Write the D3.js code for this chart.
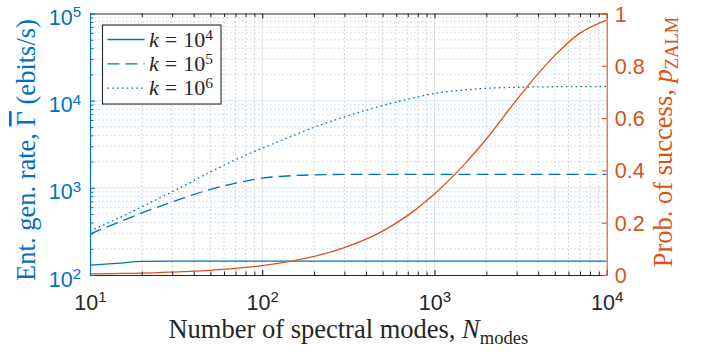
<!DOCTYPE html>
<html>
<head>
<meta charset="utf-8">
<script src="https://cdn.jsdelivr.net/npm/d3@7"></script>
<style>
  body { margin: 0; background: #fff; }
  svg { display: block; }
</style>
</head>
<body>
<svg id="chart" width="711" height="354"></svg>
<script>
// Number of spectral modes (x values)
const modes = [10, 15, 20, 30, 50, 70, 100, 150, 200, 300, 500, 700, 1000, 1500, 2000, 3000, 4000, 5000, 7000, 10000];
// Entanglement generation rate (ebits/s) for each k
const rateK4 = [130, 137, 143, 144, 144, 144, 144, 144, 144, 144, 144, 144, 144, 144, 144, 144, 144, 144, 144, 144];
const rateK5 = [295, 410, 515, 690, 960, 1130, 1290, 1380, 1410, 1425, 1430, 1430, 1430, 1430, 1430, 1430, 1430, 1430, 1430, 1430];
const rateK6 = [320, 460, 607, 900, 1520, 2100, 2840, 3950, 4950, 6500, 8800, 10400, 12100, 13300, 13850, 14250, 14400, 14450, 14500, 14550];
// Probability of success p_ZALM
const probSuccess = [0.004, 0.006, 0.007, 0.011, 0.018, 0.025, 0.036, 0.054, 0.071, 0.105, 0.168, 0.228, 0.31, 0.425, 0.52, 0.67, 0.77, 0.84, 0.925, 0.975];

const xTickExps = [1, 2, 3, 4];
const yLeftTickExps = [2, 3, 4, 5];
const yRightTicks = [0, 0.2, 0.4, 0.6, 0.8, 1];
const legendExps = ["4", "5", "6"];

const BLUE = "#0072BD", ORANGE = "#D95319", DARK = "#262626";
const TICK_FONT = "'Liberation Sans', Arial, Helvetica, sans-serif";
const SERIF = "'Liberation Serif', 'Times New Roman', serif";

const svg = d3.select("#chart");
const box = { left: 90, right: 606.7, top: 13.5, bottom: 275 };

const x = d3.scaleLog().domain([10, 1e4]).range([box.left, box.right]);
const yL = d3.scaleLog().domain([100, 1e5]).range([box.bottom, box.top]);
const yR = d3.scaleLinear().domain([0, 1]).range([box.bottom, box.top]);

const majors = e => e.map(v => Math.pow(10, v));
const minorsOf = (lo, hi) => {
  const out = [];
  for (let d = lo; d < hi; d *= 10) for (let j = 2; j <= 9; j++) out.push(d * j);
  return out;
};
const xMinor = minorsOf(10, 1e4);
const yMinor = minorsOf(100, 1e5);

// ---- grid ----
const grid = svg.append("g");
grid.selectAll(".vmin").data(xMinor).join("line")
  .attr("x1", d => x(d)).attr("x2", d => x(d))
  .attr("y1", box.top).attr("y2", box.bottom)
  .attr("stroke", "#c9c9c9").attr("stroke-width", 1).attr("stroke-dasharray", "1.5,2.5");
grid.selectAll(".vmaj").data(majors([2, 3])).join("line")
  .attr("x1", d => x(d)).attr("x2", d => x(d))
  .attr("y1", box.top).attr("y2", box.bottom)
  .attr("stroke", "#e2e2e2").attr("stroke-width", 1);
grid.selectAll(".hmin").data(yMinor).join("line")
  .attr("x1", box.left).attr("x2", box.right)
  .attr("y1", d => yL(d)).attr("y2", d => yL(d))
  .attr("stroke", "#bcd7ec").attr("stroke-width", 1).attr("stroke-dasharray", "1.5,2.5");
grid.selectAll(".hmaj").data(majors([3, 4])).join("line")
  .attr("x1", box.left).attr("x2", box.right)
  .attr("y1", d => yL(d)).attr("y2", d => yL(d))
  .attr("stroke", "#d6e6f3").attr("stroke-width", 1);

// ---- data ----
svg.append("clipPath").attr("id", "plotArea").append("rect")
  .attr("x", box.left).attr("y", box.top)
  .attr("width", box.right - box.left).attr("height", box.bottom - box.top);
const plot = svg.append("g").attr("clip-path", "url(#plotArea)");

const rateLine = d3.line().x((d, i) => x(modes[i])).y(d => yL(d)).curve(d3.curveMonotoneX);
const probLine = d3.line().x((d, i) => x(modes[i])).y(d => yR(d)).curve(d3.curveMonotoneX);

const series = [
  { values: rateK4, dash: null },
  { values: rateK5, dash: "12,6" },
  { values: rateK6, dash: "1.6,3.2" }
];
series.forEach(s => {
  plot.append("path").attr("d", rateLine(s.values))
    .attr("fill", "none").attr("stroke", BLUE).attr("stroke-width", 1.3)
    .attr("stroke-dasharray", s.dash);
});
plot.append("path").attr("d", probLine(probSuccess))
  .attr("fill", "none").attr("stroke", ORANGE).attr("stroke-width", 1.3);

// ---- axes ----
function powLabels(sel, exps) {
  sel.selectAll(".tick text").each(function (d, i) {
    const t = d3.select(this).text(null);
    t.append("tspan").text("10");
    t.append("tspan").attr("dy", "-0.5em").attr("font-size", "0.7em").text(exps[i]);
  });
}
function styleAxis(g, color) {
  g.select(".domain").attr("stroke", color).attr("stroke-width", 1.1);
  g.selectAll(".tick line").attr("stroke", color).attr("stroke-width", 1.1);
  g.selectAll(".tick text").attr("fill", color)
    .attr("font-family", TICK_FONT).attr("font-size", 21.5);
}

// bottom
const gB = svg.append("g").attr("transform", `translate(0,${box.bottom})`)
  .call(d3.axisBottom(x).tickValues(xMinor).tickSizeInner(-3.5).tickSizeOuter(0).tickFormat(""));
gB.select(".domain").remove();
gB.selectAll("line").attr("stroke", DARK);
const gB2 = svg.append("g").attr("transform", `translate(0,${box.bottom})`)
  .call(d3.axisBottom(x).tickValues(majors(xTickExps)).tickSizeInner(-5).tickSizeOuter(0));
styleAxis(gB2, DARK);
gB2.selectAll(".tick text").attr("y", 35).attr("dy", null);
powLabels(gB2, xTickExps);

// top
const gT = svg.append("g").attr("transform", `translate(0,${box.top})`)
  .call(d3.axisTop(x).tickValues(xMinor).tickSizeInner(-3.5).tickSizeOuter(0).tickFormat(""));
gT.select(".domain").remove();
gT.selectAll("line").attr("stroke", DARK);
const gT2 = svg.append("g").attr("transform", `translate(0,${box.top})`)
  .call(d3.axisTop(x).tickValues(majors(xTickExps)).tickSizeInner(-5).tickSizeOuter(0).tickFormat(""));
styleAxis(gT2, DARK);

// left
const gL = svg.append("g").attr("transform", `translate(${box.left},0)`)
  .call(d3.axisLeft(yL).tickValues(yMinor).tickSizeInner(-3.5).tickSizeOuter(0).tickFormat(""));
gL.select(".domain").remove();
gL.selectAll("line").attr("stroke", BLUE);
const gL2 = svg.append("g").attr("transform", `translate(${box.left},0)`)
  .call(d3.axisLeft(yL).tickValues(majors(yLeftTickExps)).tickSizeInner(-5).tickSizeOuter(0));
styleAxis(gL2, BLUE);
gL2.selectAll(".tick text").attr("x", -9).attr("dy", 11);
powLabels(gL2, yLeftTickExps);

// right
const gR = svg.append("g").attr("transform", `translate(${box.right},0)`)
  .call(d3.axisRight(yR).tickValues(yRightTicks).tickSizeInner(-5).tickSizeOuter(0)
    .tickFormat(d => d === 0 || d === 1 ? String(d) : d3.format(".1f")(d)));
styleAxis(gR, ORANGE);
gR.selectAll(".tick text").attr("x", 8).attr("dy", 7.5);

// ---- axis titles ----
const xl = svg.append("text").attr("x", (box.left + box.right) / 2).attr("y", 338)
  .attr("text-anchor", "middle").attr("font-family", SERIF).attr("font-size", 26.5).attr("fill", DARK);
xl.append("tspan").text("Number of spectral modes, ");
xl.append("tspan").attr("font-style", "italic").text("N");
xl.append("tspan").attr("font-size", "0.7em").attr("dy", "0.3em").text("modes");

const yl = svg.append("text").attr("transform", "translate(35,150) rotate(-90)")
  .attr("text-anchor", "middle").attr("font-family", SERIF).attr("font-size", 26.5).attr("fill", BLUE);
yl.append("tspan").text("Ent. gen. rate, ");
yl.append("tspan").attr("text-decoration", "overline").text("Γ");
yl.append("tspan").text(" (ebits/s)");

const yr = svg.append("text").attr("transform", "translate(672,142) rotate(-90)")
  .attr("text-anchor", "middle").attr("font-family", SERIF).attr("font-size", 26.5).attr("fill", ORANGE);
yr.append("tspan").text("Prob. of success, ");
yr.append("tspan").attr("font-style", "italic").text("p");
yr.append("tspan").attr("font-size", "0.7em").attr("dy", "0.3em").text("ZALM");

// ---- legend ----
const leg = svg.append("g");
leg.append("rect").attr("x", 102.5).attr("y", 25).attr("width", 118.5).attr("height", 79)
  .attr("fill", "#fff").attr("stroke", DARK).attr("stroke-width", 1.1);
series.forEach((s, i) => {
  const yy = 39.5 + i * 24.3;
  leg.append("line").attr("x1", 107.5).attr("x2", 144.5).attr("y1", yy).attr("y2", yy)
    .attr("stroke", BLUE).attr("stroke-width", 1.3).attr("stroke-dasharray", s.dash);
  const t = leg.append("text").attr("x", 149).attr("y", yy + 7)
    .attr("font-family", SERIF).attr("font-size", 22).attr("fill", DARK);
  t.append("tspan").attr("font-style", "italic").text("k");
  t.append("tspan").attr("dx", 6).text("=");
  t.append("tspan").attr("dx", 6).text("10");
  t.append("tspan").attr("dy", "-0.45em").attr("font-size", "0.7em").text(legendExps[i]);
});
</script>
</body>
</html>
